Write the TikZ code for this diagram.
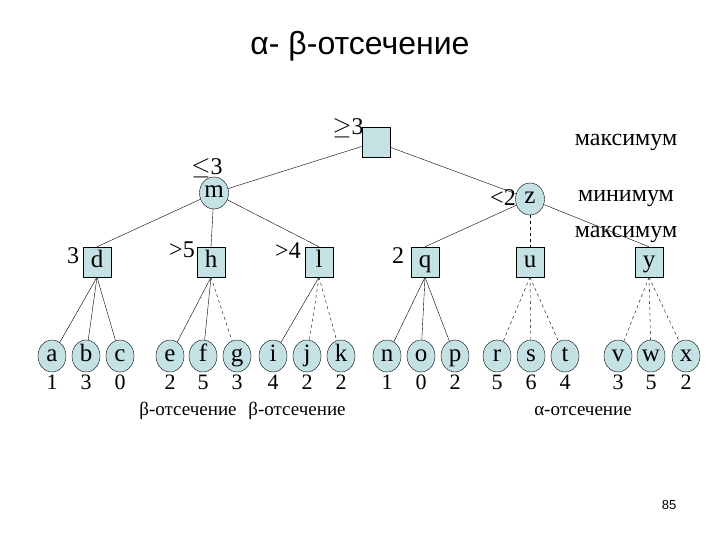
\documentclass[tikz,border=0pt]{standalone}
\usepackage{fontspec}
\setmainfont{Liberation Serif}
\newfontfamily\sansf{Liberation Sans}
\usetikzlibrary{shapes.geometric}
\definecolor{nodefill}{RGB}{196,226,228}
\begin{document}
\begin{tikzpicture}[x=1pt,y=-1pt,
 box/.style={draw,fill=nodefill,minimum width=28pt,minimum height=30pt,inner sep=0pt,text height=14pt,text depth=4pt,font=\fontsize{25}{25}\selectfont},
 ell/.style={draw,fill=nodefill,ellipse,minimum width=29pt,minimum height=32pt,inner sep=0pt,text height=14pt,text depth=4pt,font=\fontsize{25}{25}\selectfont},
 lab/.style={font=\fontsize{24}{24}\selectfont,inner sep=0pt},
 num/.style={font=\fontsize{22}{22}\selectfont,inner sep=0pt},
 cut/.style={font=\fontsize{19}{19}\selectfont,inner sep=0pt},
 dsh/.style={dashed}]
\useasboundingbox (0,0) rectangle (720,540);
\node[font=\sansf\fontsize{32}{32}\selectfont] (title) at (360,46) {α- β-отсечение};
\node[font=\sansf\fontsize{13}{13}\selectfont] (pg) at (669,505) {85};
\node[box] (root) at (376,142) {};
\node[ell] (m) at (214,193) {m};
\node[ell] (z) at (530,199) {z};
\foreach \n/\x in {d/97,h/211,l/319,q/425,u/530,y/649} \node[box] (\n) at (\x,262) {\n};
\foreach \n/\x/\v in {a/52/1,b/86/3,c/120/0,e/170/2,f/203/5,g/237/3,i/273/4,j/307/2,k/341/2,n/387/1,o/421/0,p/455/2,r/497/5,s/531/6,t/565/4,v/618/3,w/651/5,x/686/2}{
 \node[ell,minimum width=28pt] (\n) at (\x,356) {\n};
 \node[num] (\n v) at (\x,382) {\v};}
\node[lab] (l0) at (348,128) {$\geq$3};
\node[lab] (l1) at (207,168) {$\leq$3};
\node[lab] (l2) at (503,198) {<2};
\node[lab] (l3) at (73,256) {3};
\node[lab] (l4) at (182,250) {>5};
\node[lab] (l5) at (288,251) {>4};
\node[lab] (l6) at (398,256) {2};
\node[lab] (mx1) at (626,142) {максимум};
\node[lab] (mn) at (626,199) {минимум};
\node[lab] (mx2) at (626,234) {максимум};
\node[cut] (c1) at (188,411) {β-отсечение};
\node[cut] (c2) at (297,411) {β-отсечение};
\node[cut] (c3) at (583,411) {α-отсечение};
\draw (root) -- (m); \draw (root) -- (z);
\draw (m) -- (d.north); \draw (m) -- (h.north); \draw (m) -- (l.north);
\draw (z) -- (q.north); \draw[dsh] (z) -- (u.north); \draw (z) -- (y.north);
\foreach \p/\c in {d/a,d/b,d/c,h/e,h/f,l/i,q/n,q/o,q/p} \draw (\p.south) -- (\c);
\foreach \p/\c in {h/g,l/j,l/k,u/r,u/s,u/t,y/v,y/w,y/x} \draw[dsh] (\p.south) -- (\c);
\end{tikzpicture}
\end{document}
